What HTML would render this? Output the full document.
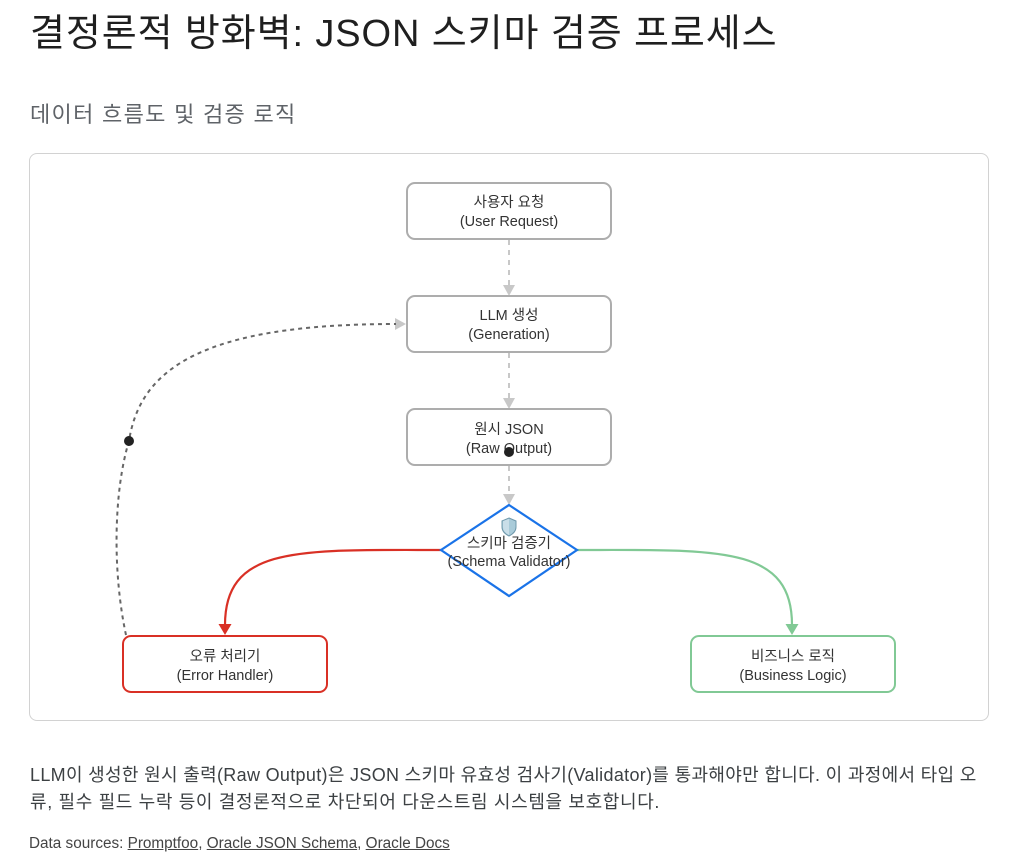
<!DOCTYPE html>
<html>
<head>
<meta charset="utf-8">
<style>
  html,body{margin:0;padding:0;background:#fff;}
  body{width:1024px;height:861px;position:relative;overflow:hidden;font-family:"Liberation Sans","Noto Sans CJK KR",sans-serif;}
  .title{position:absolute;left:30px;top:14px;font-size:38px;line-height:40px;color:#1f1f1f;white-space:nowrap;letter-spacing:0.9px;}
  .sub{position:absolute;left:30px;top:102px;font-size:22px;line-height:26px;color:#5f6368;white-space:nowrap;letter-spacing:1.3px;}
  .box{position:absolute;left:29px;top:153px;width:958px;height:566px;border:1px solid #d2d2d2;border-radius:8px;}
  .para{position:absolute;left:30px;top:762px;font-size:18px;line-height:27px;color:#3c4043;white-space:nowrap;}
  .l1{letter-spacing:0.32px;}
  .l2{letter-spacing:0.65px;}
  .src{position:absolute;left:29px;top:834px;font-size:15.3px;line-height:20px;color:#444;white-space:nowrap;}
  .src u{text-decoration:underline;}
  svg{position:absolute;left:0;top:0;}
</style>
</head>
<body>
<div class="title">결정론적 방화벽: JSON 스키마 검증 프로세스</div>
<div class="sub">데이터 흐름도 및 검증 로직</div>
<div class="box"></div>

<svg width="1024" height="861" viewBox="0 0 1024 861" xmlns="http://www.w3.org/2000/svg">
  <g font-family="Liberation Sans, Noto Sans CJK KR, sans-serif" font-size="14.5" fill="#333" text-anchor="middle">
    <g stroke="#c8c8c8" stroke-width="2" stroke-dasharray="5,5" fill="none">
      <line x1="509" y1="240" x2="509" y2="286"/>
      <line x1="509" y1="353" x2="509" y2="399"/>
      <line x1="509" y1="466" x2="509" y2="495"/>
    </g>
    <g fill="#c8c8c8">
      <polygon points="503,285 515,285 509,296"/>
      <polygon points="503,398 515,398 509,409"/>
      <polygon points="503,494 515,494 509,505"/>
      <polygon points="395,318 395,330 406,324"/>
    </g>

    <path d="M126,635 C112,570 114,490 129,441 C140,370 200,324 396,324" stroke="#666" stroke-width="2" stroke-dasharray="4,4" fill="none"/>

    <path d="M441,550 C300,550 225,545 225,625" stroke="#d93025" stroke-width="2.2" fill="none"/>
    <polygon points="218.5,624 231.5,624 225,635" fill="#d93025"/>
    <path d="M577,550 C718,550 792,545 792,625" stroke="#81c995" stroke-width="2.2" fill="none"/>
    <polygon points="785.5,624 798.5,624 792,635" fill="#81c995"/>

    <rect x="407" y="183" width="204" height="56" rx="8" fill="#fff" stroke="#adadad" stroke-width="2"/>
    <text x="509" y="207">사용자 요청</text>
    <text x="509" y="226">(User Request)</text>

    <rect x="407" y="296" width="204" height="56" rx="8" fill="#fff" stroke="#adadad" stroke-width="2"/>
    <text x="509" y="320">LLM 생성</text>
    <text x="509" y="339">(Generation)</text>

    <rect x="407" y="409" width="204" height="56" rx="8" fill="#fff" stroke="#adadad" stroke-width="2"/>
    <text x="509" y="434">원시 JSON</text>
    <text x="509" y="453">(Raw Output)</text>

    <polygon points="509,505 577,550 509,596 441,550" fill="#fff" stroke="#1a73e8" stroke-width="2.2"/>
    <path d="M509,518 L516,521 L516,527 C516,531 513,534 509,536 C505,534 502,531 502,527 L502,521 Z" fill="#a9cbd9" stroke="#6f98ab" stroke-width="1"/>
    <path d="M509,519 L509,535 C505,533 503,530 503,527 L503,521 Z" fill="#c9dee8"/>
    <text x="509" y="548">스키마 검증기</text>
    <text x="509" y="566">(Schema Validator)</text>

    <rect x="123" y="636" width="204" height="56" rx="8" fill="#fff" stroke="#d93025" stroke-width="2"/>
    <text x="225" y="661">오류 처리기</text>
    <text x="225" y="680">(Error Handler)</text>

    <rect x="691" y="636" width="204" height="56" rx="8" fill="#fff" stroke="#81c995" stroke-width="2"/>
    <text x="793" y="661">비즈니스 로직</text>
    <text x="793" y="680">(Business Logic)</text>

    <circle cx="129" cy="441" r="5" fill="#222"/>
    <circle cx="509" cy="452" r="5" fill="#222"/>
  </g>
</svg>

<div class="para"><span class="l1">LLM이 생성한 원시 출력(Raw Output)은 JSON 스키마 유효성 검사기(Validator)를 통과해야만 합니다. 이 과정에서 타입 오</span><br><span class="l2">류, 필수 필드 누락 등이 결정론적으로 차단되어 다운스트림 시스템을 보호합니다.</span></div>
<div class="src">Data sources: <u>Promptfoo</u>, <u>Oracle JSON Schema</u>, <u>Oracle Docs</u></div>
</body>
</html>
